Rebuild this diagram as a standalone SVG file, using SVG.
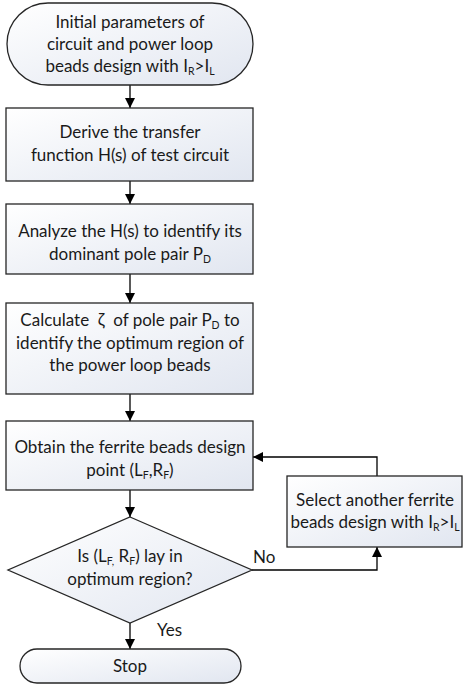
<svg xmlns="http://www.w3.org/2000/svg" width="463" height="688" viewBox="0 0 463 688">
<defs>
<linearGradient id="g" x1="0" y1="0" x2="1" y2="1">
<stop offset="0" stop-color="#ffffff"/>
<stop offset="1" stop-color="#e1e6f0"/>
</linearGradient>
<marker id="ah" viewBox="0 0 10 10" refX="10" refY="5" markerWidth="10" markerHeight="10" markerUnits="userSpaceOnUse" orient="auto">
<path d="M0,0 L10,5 L0,10 z" fill="#000"/>
</marker>
<style>
.s{fill:url(#g);stroke:#262626;stroke-width:1.3}
.t{font-family:Lato,"Open Sans",sans-serif;font-size:17px;fill:#1a1a1a;text-anchor:middle}
.l{font-family:Lato,"Open Sans",sans-serif;font-size:17px;fill:#1a1a1a}
.sub{font-size:10.5px}
.c{fill:none;stroke:#000;stroke-width:1.3;marker-end:url(#ah)}
</style>
</defs>
<rect width="463" height="688" fill="#fff"/>
<g id="connectors">
<path class="c" d="M130,85 V108"/>
<path class="c" d="M130,181 V204"/>
<path class="c" d="M130,274 V303"/>
<path class="c" d="M130,394 V421"/>
<path class="c" d="M130,490 V517"/>
<path class="c" d="M130,623 V649"/>
<path class="c" d="M252,570 H377 V547"/>
<path class="c" d="M377,476 V457 H253"/>
<text class="l" x="253" y="563">No</text>
<text class="l" x="157" y="636">Yes</text>
</g>
<g id="start">
<rect class="s" x="7" y="3" width="246" height="82" rx="41" ry="41"/>
<text class="t" x="130" y="28">Initial parameters of</text>
<text class="t" x="130" y="50">circuit and power loop</text>
<text class="t" x="130" y="72">beads design with I<tspan class="sub" dy="3">R</tspan><tspan dy="-3">&gt;I</tspan><tspan class="sub" dy="3">L</tspan></text>
</g>
<g id="derive">
<rect class="s" x="6" y="108" width="247" height="73"/>
<text class="t" x="130" y="138">Derive the transfer</text>
<text class="t" x="130" y="161">function H(s) of test circuit</text>
</g>
<g id="analyze">
<rect class="s" x="6" y="204" width="247" height="70"/>
<text class="t" x="130" y="237">Analyze the H(s) to identify its</text>
<text class="t" x="130" y="260">dominant pole pair P<tspan class="sub" dy="3">D</tspan></text>
</g>
<g id="calculate">
<rect class="s" x="6" y="303" width="247" height="91"/>
<text class="t" x="130" y="326">Calculate&#160; ζ&#160; of pole pair P<tspan class="sub" dy="3">D</tspan><tspan dy="-3"> to</tspan></text>
<text class="t" x="130" y="349">identify the optimum region of</text>
<text class="t" x="130" y="371">the power loop beads</text>
</g>
<g id="obtain">
<rect class="s" x="6" y="421" width="247" height="69"/>
<text class="t" x="130" y="453">Obtain the ferrite beads design</text>
<text class="t" x="130" y="476">point (L<tspan class="sub" dy="3">F</tspan><tspan dy="-3">,R</tspan><tspan class="sub" dy="3">F</tspan><tspan dy="-3">)</tspan></text>
</g>
<g id="decision">
<polygon class="s" points="130,517 252,570 130,623 8,570"/>
<text class="t" x="130" y="562">Is (L<tspan class="sub" dy="3">F,</tspan><tspan dy="-3"> R</tspan><tspan class="sub" dy="3">F</tspan><tspan dy="-3">) lay in</tspan></text>
<text class="t" x="130" y="585">optimum region?</text>
</g>
<g id="select">
<rect class="s" x="287" y="476" width="175" height="71"/>
<text class="t" x="375" y="506">Select another ferrite</text>
<text class="t" x="375" y="528">beads design with I<tspan class="sub" dy="3">R</tspan><tspan dy="-3">&gt;I</tspan><tspan class="sub" dy="3">L</tspan></text>
</g>
<g id="stop">
<rect class="s" x="20" y="649" width="221" height="34" rx="17" ry="17"/>
<text class="t" x="130" y="672">Stop</text>
</g>
</svg>
